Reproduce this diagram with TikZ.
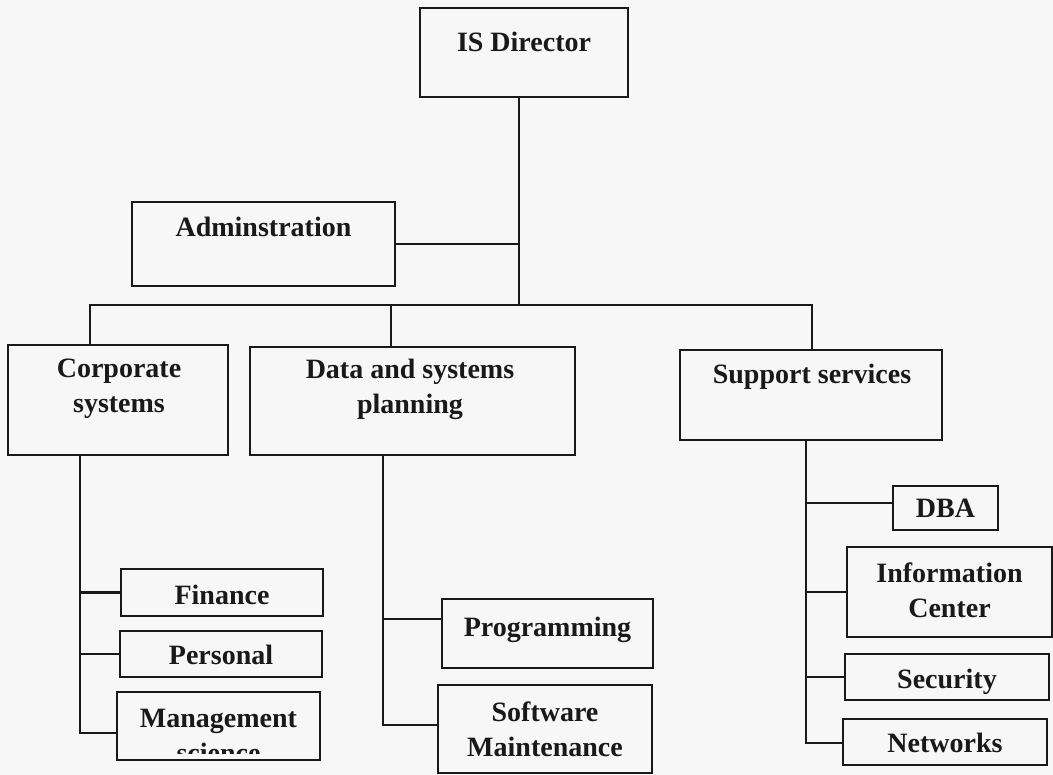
\documentclass[tikz,border=0pt]{standalone}
\usepackage{fontspec}
\setmainfont{Liberation Serif}

\begin{document}
\begin{tikzpicture}[x=1pt, y=-1pt, line width=2.1pt, draw=black!90,
		every node/.style={font=\fontsize{28}{35}\selectfont\bfseries, align=center, text=black!90},
		box/.style 2 args={draw, rectangle, inner sep=0pt, minimum width=#1, minimum height=#2}]
	\useasboundingbox (0,0) rectangle (1053,775);
	\fill [white!97!black] (0,0) rectangle (1053,775);
	% top of the chart
	\node [box={208}{89}] (isd) at (524,52.5) {};
	\node (isdT) at (524,42) {IS Director};
	\node [box={263}{84}] (adm) at (263.5,244) {};
	\node (admT) at (263.5,227) {Adminstration};
	% the three groups
	\node [box={220}{110}] (cs) at (118,400) {};
	\node (csT) at (119,389) {Corporate\\systems};
	\node [box={325}{108}] (dsp) at (412.5,401) {};
	\node (dspT) at (410,389) {Data and systems\\planning};
	\node [box={262}{90}] (ss) at (811,395) {};
	\node (ssT) at (812,377) {Support services};
	% units under each group
	\node [box={202}{47}] (fin) at (222,592.5) {};
	\node (finT) at (222,595) {Finance};
	\node [box={202}{46}] (per) at (221,654) {};
	\node (perT) at (221,655) {Personal};
	\node [box={203}{68}] (ms) at (218.5,726) {};
	\node [box={211}{69}] (prog) at (547.5,633.5) {};
	\node (progT) at (547.5,630) {Programming};
	\node [box={214}{88}] (sw) at (545,729) {};
	\node (swT) at (545,729.5) {Software\\Maintenance};
	\node [box={105}{44}] (dba) at (945.5,508) {};
	\node (dbaT) at (945.5,508) {DBA};
	\node [box={205}{90}] (ic) at (949.5,592) {};
	\node (icT) at (949.5,590.5) {Information\\Center};
	\node [box={204}{46}] (sec) at (947,677) {};
	\node (secT) at (947,682) {Security};
	\node [box={204}{46}] (net) at (945,742) {};
	\node (netT) at (945,743) {Networks};
	\begin{scope}
		\clip (ms.north west) rectangle ([yshift=8pt]ms.south east);
		\node (msT) at (218.5,735.5) {Management\\science};
	\end{scope}
	% lines
	\coordinate (busL) at (90,305);
	\coordinate (busM) at (519,305);
	\coordinate (busD) at (391,305);
	\coordinate (busR) at (812,305);
	\draw (isd.south -| busM) -- (busM);
	\draw (adm.east) -- (adm.east -| busM);
	\draw (cs.north -| busL) -- (busL) -- (busR) -- (ss.north -| busR);
	\draw (busD) -- (dsp.north -| busD);
	\coordinate (csB) at (80,733);
	\draw (cs.south -| csB) -- (csB) -- (ms.west |- csB);
	\foreach \u in {fin,per}
		\draw (\u.west) -- (\u.west -| csB);
	\coordinate (dspB) at (383,725);
	\draw (dsp.south -| dspB) -- (dspB) -- (sw.west |- dspB);
	\draw ([yshift=14.5pt]prog.west) -- ([yshift=14.5pt]prog.west -| dspB);
	\coordinate (ssB) at (806,743);
	\draw (ss.south -| ssB) -- (ssB) -- (net.west |- ssB);
	\draw ([yshift=5pt]dba.west) -- ([yshift=5pt]dba.west -| ssB);
	\foreach \u in {ic,sec}
		\draw (\u.west) -- (\u.west -| ssB);
\end{tikzpicture}
\end{document}
